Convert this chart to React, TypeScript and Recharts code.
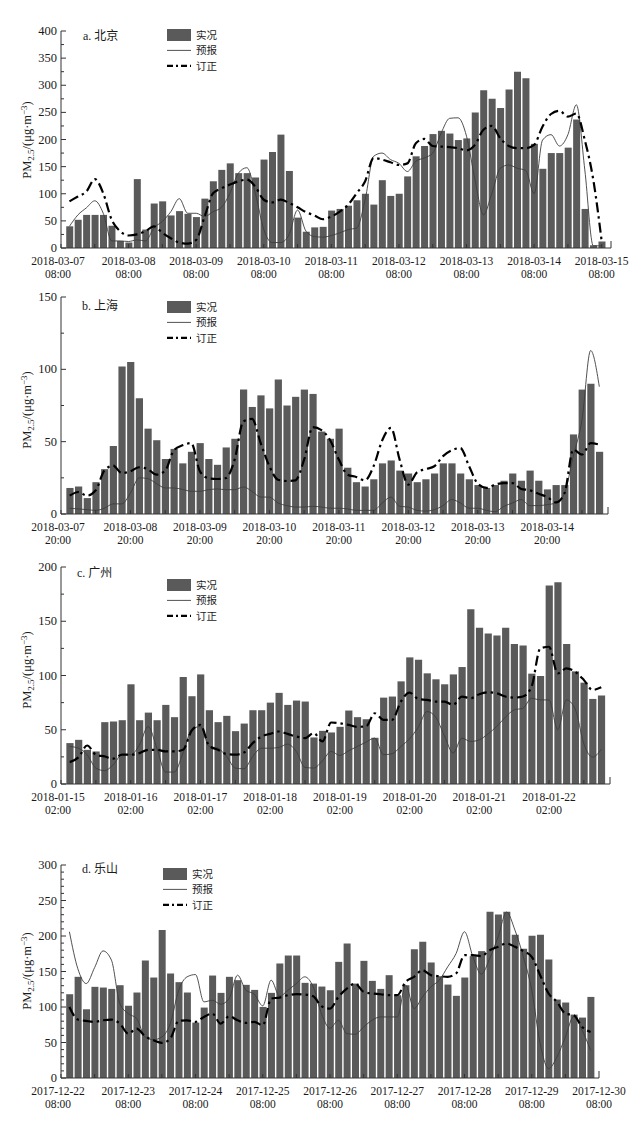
import React from 'react';
import { ComposedChart, Bar, Line, XAxis, YAxis } from 'recharts';

const SERIF = '"Liberation Serif", "Times New Roman", serif';
const CJK = '"Noto Sans CJK SC", "Liberation Serif", sans-serif';
const TXT = '#1a1a1a';
const AXIS = '#333';
const BAR = '#5a5a5a';

// ---------- a. 北京 ----------
const datesA = ['2018-03-07', '2018-03-08', '2018-03-09', '2018-03-10', '2018-03-11', '2018-03-12', '2018-03-13', '2018-03-14', '2018-03-15'];
const timeA = '08:00';
const actualA = [40, 52, 61, 61, 61, 41, 13, 10, 127, 34, 82, 86, 60, 68, 63, 57, 91, 123, 144, 156, 138, 138, 130, 163, 177, 209, 142, 56, 30, 38, 39, 69, 72, 78, 88, 100, 80, 125, 96, 100, 132, 169, 188, 210, 216, 211, 199, 202, 250, 291, 275, 258, 292, 325, 313, 192, 146, 175, 175, 185, 237, 72, 5, 12];
const forecastA = [40, 61, 74, 87, 64, 13, 13, 12, 15, 13, 37, 49, 67, 91, 64, 64, 58, 67, 75, 101, 138, 148, 101, 34, 10, 10, 25, 70, 31, 21, 20, 23, 28, 34, 37, 89, 169, 175, 163, 156, 141, 160, 166, 175, 212, 239, 240, 206, 126, 61, 101, 147, 153, 147, 143, 100, 199, 209, 188, 209, 264, 144, 4, 4];
const revisedA = [86, 95, 104, 127, 101, 52, 31, 23, 25, 31, 40, 28, 18, 10, 8, 15, 58, 101, 110, 117, 123, 126, 113, 89, 84, 89, 83, 75, 66, 60, 53, 58, 67, 80, 101, 123, 166, 163, 158, 153, 156, 193, 201, 188, 187, 186, 184, 180, 190, 218, 225, 202, 188, 184, 184, 190, 224, 247, 253, 242, 248, 199, 126, 12];

// ---------- b. 上海 ----------
const datesB = ['2018-03-07', '2018-03-08', '2018-03-09', '2018-03-10', '2018-03-11', '2018-03-12', '2018-03-13', '2018-03-14'];
const timeB = '20:00';
const actualB = [18, 19, 11, 22, 31, 47, 102, 105, 80, 59, 51, 38, 45, 35, 43, 49, 38, 34, 46, 52, 86, 74, 82, 73, 93, 75, 81, 86, 83, 57, 52, 59, 32, 22, 19, 24, 35, 37, 30, 28, 22, 24, 28, 35, 35, 28, 24, 20, 18, 20, 23, 28, 23, 30, 23, 17, 20, 20, 55, 86, 90, 43];
const forecastB = [4, 3.5, 3, 2.5, 4, 7, 7, 14.5, 25, 24.5, 21, 18, 18, 17, 15.7, 15.7, 16.8, 17.3, 16.8, 16.8, 18.7, 15.7, 11.7, 11.7, 7.6, 5.8, 4.8, 4.8, 5.3, 4.8, 4, 4, 3.5, 2.5, 2.5, 2.5, 7.6, 11.7, 5.3, 4.8, 2.5, 2, 3, 5.8, 10, 7.6, 4, 4, 2.5, 1.6, 5.3, 7.6, 10, 5.8, 5.8, 6.5, 7.6, 14.5, 40, 65, 113, 88];
const revisedB = [12.7, 15.2, 12.7, 16.4, 30, 33.4, 28.3, 29.5, 32.3, 31, 27.2, 30, 44, 47.5, 49, 29.5, 24.7, 24.2, 24.9, 37.6, 64, 65.7, 49, 33, 23.7, 22.8, 23.3, 37.6, 60, 58, 51, 37.6, 27.2, 25.6, 23.3, 33, 51, 59.5, 37.6, 20.3, 28.8, 31, 33, 40, 44, 45.6, 33, 21, 18, 20.3, 21.4, 21.4, 17.3, 16.4, 14, 11.7, 8, 14.5, 44.5, 41, 49, 48];

// ---------- c. 广州 ----------
const datesC = ['2018-01-15', '2018-01-16', '2018-01-17', '2018-01-18', '2018-01-19', '2018-01-20', '2018-01-21', '2018-01-22'];
const timeC = '02:00';
const actualC = [37.7, 40.7, 31.5, 30, 57, 57.6, 58.8, 91.9, 58.8, 65.8, 58.8, 72.9, 61.6, 98.6, 80.9, 101, 68, 57, 62.8, 48.7, 55.7, 68, 68, 75, 84, 72.9, 76.9, 76, 42.9, 49, 47.5, 52.7, 67.7, 61.6, 59.7, 42.6, 79.6, 80.6, 94.6, 116.7, 114.5, 102, 96.5, 91.9, 101, 107.8, 161, 144, 138.7, 136.9, 144, 129, 127.7, 101.7, 99.5, 183, 186, 129, 103.8, 93.4, 78.4, 81.5];
const forecastC = [34.6, 33, 27, 14.7, 12.3, 17.8, 27, 27, 36, 53, 33, 11, 11, 28.5, 50, 53, 34.6, 33, 25.4, 14.7, 14, 25.4, 33, 33, 33.7, 36.8, 30, 15.3, 14.7, 21.4, 30, 26.3, 30.6, 34.6, 38.6, 42.3, 27, 27.9, 34.6, 41.7, 52.4, 66.8, 61.6, 44.4, 28.5, 42.3, 39.2, 40.7, 46.2, 53, 61.6, 68.3, 69.8, 79, 77.5, 77.5, 50, 77.5, 69.2, 37, 24.8, 32];
const revisedC = [20.2, 24.5, 35.5, 27, 25.4, 23.3, 27, 27, 28.5, 31.5, 31.5, 30, 30, 31.5, 49.3, 54.5, 35.2, 31.5, 27.6, 27, 29, 37.7, 43.8, 46.2, 48.4, 46.2, 43.8, 42.3, 47, 39.2, 56.7, 56, 54.5, 52.7, 53, 65.2, 59.1, 59.1, 76, 84.2, 78.4, 77.5, 76, 76, 72.9, 80.6, 79, 82.7, 84.5, 83.6, 80.6, 79.6, 80.6, 89.7, 125, 126.5, 102, 106.6, 103.5, 95.9, 86.7, 89.1];

// ---------- d. 乐山 ----------
const datesD = ['2017-12-22', '2017-12-23', '2017-12-24', '2017-12-25', '2017-12-26', '2017-12-27', '2017-12-28', '2017-12-29', '2017-12-30'];
const timeD = '08:00';
const actualD = [118, 142.5, 96.8, 128.4, 127.4, 125.5, 130.7, 101.6, 120.4, 165.5, 141.5, 208.3, 147.2, 135, 120.4, 78, 99.2, 144.3, 119.9, 142.5, 137.8, 131.2, 124.1, 100.1, 119.9, 161.3, 172.5, 172.5, 134, 133, 128.8, 123.6, 163.6, 189.5, 133, 165, 136.8, 125.5, 144.8, 116.6, 130.7, 181.5, 191.8, 162.7, 143.4, 131.6, 115.7, 141.5, 171.6, 178.7, 234, 230.4, 234, 201.7, 182, 200.3, 201.7, 166.9, 110.5, 106.3, 89.3, 85.1, 114.2];
const forecastD = [206, 154, 133, 155.6, 179, 166, 104.8, 90.7, 83.7, 57.8, 54, 57.8, 76.6, 123.6, 142.5, 145.7, 107.2, 109.5, 103.9, 111.9, 144.8, 123.6, 118, 101.6, 137.8, 115.2, 123.6, 133, 142.5, 128.4, 90, 70, 81.3, 62.5, 61.6, 71.9, 81.3, 86, 86, 86, 130.7, 97.8, 114.2, 128.4, 137.8, 156.6, 175.4, 206, 170.7, 146.2, 168.3, 198.9, 233.7, 208.3, 170.7, 123.6, 48.4, 13.2, 29.6, 57.8, 87, 67.2, 39];
const revisedD = [100.1, 82.3, 80.4, 79, 81.3, 82.3, 76.6, 62.5, 69.6, 58.8, 53.1, 49.4, 55.5, 80.4, 81.3, 79, 86, 90.7, 76.6, 87, 81.3, 77.6, 79, 74.3, 111.9, 113.3, 116.6, 118, 117.5, 115.2, 101, 97.8, 114.2, 126, 133, 121.3, 119, 118, 116.6, 116.6, 135.4, 142.5, 151.9, 144.8, 143.4, 142.5, 147.2, 173, 173, 171.6, 180, 184.8, 189.5, 184.8, 178.7, 170.7, 144.8, 119, 107.2, 90.7, 88.4, 71.9, 64.9];

const SERIES_NAMES = ['实况', '预报', '订正'];

const PLOT_LEFT = 61;
const YAXIS_W = 40;
const XAXIS_H = 30;

type Cfg = {
  title: string;
  letter: string;
  dates: string[];
  time: string;
  actual: number[];
  forecast: number[];
  revised: number[];
  top: number;
  height: number;
  plotTop: number;
  plotBottom: number;
  plotRight: number;
  xMax: number;
  yMax: number;
  yMajor: number;
  yMinor: number;
  barSize: number;
  legendX: number;
  legendY: number;
  titleX: number;
  titleY: number;
  labelCy: number;
};

const panels: Cfg[] = [
  { title: '北京', letter: 'a.', dates: datesA, time: timeA, actual: actualA, forecast: forecastA, revised: revisedA,
    top: 0, height: 280, plotTop: 31, plotBottom: 248, plotRight: 611, xMax: 65.1, yMax: 400, yMajor: 50, yMinor: 25, barSize: 7,
    legendX: 167, legendY: 35, titleX: 83, titleY: 35, labelCy: 140 },
  { title: '上海', letter: 'b.', dates: datesB, time: timeB, actual: actualB, forecast: forecastB, revised: revisedB,
    top: 280, height: 275, plotTop: 297, plotBottom: 514, plotRight: 608, xMax: 63, yMax: 150, yMajor: 50, yMinor: 25, barSize: 7.2,
    legendX: 167, legendY: 307, titleX: 82, titleY: 305, labelCy: 410 },
  { title: '广州', letter: 'c.', dates: datesC, time: timeC, actual: actualC, forecast: forecastC, revised: revisedC,
    top: 555, height: 295, plotTop: 567, plotBottom: 784, plotRight: 610, xMax: 63, yMax: 200, yMajor: 50, yMinor: 25, barSize: 7.2,
    legendX: 167, legendY: 585, titleX: 77, titleY: 572, labelCy: 670 },
  { title: '乐山', letter: 'd.', dates: datesD, time: timeD, actual: actualD, forecast: forecastD, revised: revisedD,
    top: 850, height: 280, plotTop: 865, plotBottom: 1078, plotRight: 599, xMax: 64, yMax: 300, yMajor: 50, yMinor: 10, barSize: 7,
    legendX: 163, legendY: 874, titleX: 82, titleY: 868, labelCy: 971 },
];

function range(start: number, end: number, step: number): number[] {
  const out: number[] = [];
  for (let v = start; v <= end + 1e-9; v += step) out.push(Math.round(v * 1000) / 1000);
  return out;
}

function Panel({ cfg }: { cfg: Cfg }) {
  const data = cfg.actual.map((v, i) => ({
    x: i + 1,
    actual: v,
    forecast: cfg.forecast[i],
    revised: cfg.revised[i],
  }));
  const localTop = cfg.plotTop - cfg.top;
  const localBottom = cfg.plotBottom - cfg.top;
  const marginBottom = cfg.height - localBottom - XAXIS_H;
  const xTicks = range(0, Math.floor(cfg.xMax), 4);
  if (Math.abs(xTicks[xTicks.length - 1] - cfg.xMax) > 1e-6) xTicks.push(cfg.xMax);
  const yTicks = range(0, cfg.yMax, cfg.yMinor);

  const XTick = (props: any) => {
    const { x, payload } = props;
    const v = payload.value as number;
    const isEnd = Math.abs(v - cfg.xMax) < 1e-6;
    const len = isEnd ? 7 : 4;
    const idx = v % 8 === 0 ? v / 8 : -1;
    const showLabel = idx >= 0 && idx < cfg.dates.length;
    const lx = v === 0 ? x - 3 : x;
    return (
      <g>
        <line x1={x} x2={x} y1={localBottom} y2={localBottom - len} stroke={AXIS} strokeWidth={1} />
        {showLabel && (
          <text x={lx} y={localBottom + 17} textAnchor="middle" fontFamily={SERIF} fontSize={11.5} fill={TXT}>
            {cfg.dates[idx]}
          </text>
        )}
        {showLabel && (
          <text x={lx} y={localBottom + 29.5} textAnchor="middle" fontFamily={SERIF} fontSize={11.5} fill={TXT}>
            {cfg.time}
          </text>
        )}
      </g>
    );
  };

  const YTick = (props: any) => {
    const { y, payload } = props;
    const v = payload.value as number;
    const major = Math.abs(v % cfg.yMajor) < 1e-6;
    return (
      <g>
        <line x1={PLOT_LEFT} x2={PLOT_LEFT + (major ? 5 : 3)} y1={y} y2={y} stroke={AXIS} strokeWidth={1} />
        {major && (
          <text x={PLOT_LEFT - 4} y={y + 4} textAnchor="end" fontFamily={SERIF} fontSize={12.5} fill={TXT}>
            {v}
          </text>
        )}
      </g>
    );
  };

  return (
    <div style={{ position: 'absolute', left: 0, top: cfg.top, width: 644, height: cfg.height }}>
      <ComposedChart
        width={644}
        height={cfg.height}
        data={data}
        margin={{ top: localTop, right: 644 - cfg.plotRight, bottom: marginBottom, left: PLOT_LEFT - YAXIS_W }}
      >
        <XAxis
          dataKey="x"
          type="number"
          domain={[0, cfg.xMax]}
          ticks={xTicks}
          interval={0}
          allowDataOverflow
          height={XAXIS_H}
          tickLine={false}
          axisLine={{ stroke: AXIS, strokeWidth: 1 }}
          tick={XTick}
        />
        <YAxis
          type="number"
          domain={[0, cfg.yMax]}
          ticks={yTicks}
          interval={0}
          allowDataOverflow
          width={YAXIS_W}
          tickLine={false}
          axisLine={{ stroke: AXIS, strokeWidth: 1 }}
          tick={YTick}
        />
        <Bar dataKey="actual" name={SERIES_NAMES[0]} fill={BAR} barSize={cfg.barSize} isAnimationActive={false} />
        <Line dataKey="forecast" name={SERIES_NAMES[1]} type="monotone" stroke="#3d3d3d" strokeWidth={0.9} dot={false} isAnimationActive={false} />
        <Line dataKey="revised" name={SERIES_NAMES[2]} type="monotone" stroke="#000" strokeWidth={2.2} strokeDasharray="10 4 2.5 4" dot={false} isAnimationActive={false} />
      </ComposedChart>
    </div>
  );
}

function Overlay() {
  return (
    <svg width={644} height={1130} style={{ position: 'absolute', left: 0, top: 0, pointerEvents: 'none' }}>
      {panels.map((p, k) => {
        const lx = p.legendX;
        const ly = p.legendY;
        const dy = 15.4;
        return (
          <g key={k}>
            <text x={p.titleX} y={p.titleY + 4.5} fontSize={12} fill={TXT}>
              <tspan fontFamily={SERIF}>{p.letter} </tspan>
              <tspan fontFamily={CJK}>{p.title}</tspan>
            </text>
            <rect x={lx} y={ly - 6} width={24} height={12} fill={BAR} />
            <line x1={lx} x2={lx + 24} y1={ly + dy} y2={ly + dy} stroke="#3d3d3d" strokeWidth={0.9} />
            <line x1={lx} x2={lx + 24} y1={ly + 2 * dy} y2={ly + 2 * dy} stroke="#000" strokeWidth={2.2} strokeDasharray="6 3 2 3" />
            {SERIES_NAMES.map((n, j) => (
              <text key={n} x={lx + 29} y={ly + j * dy + 4} fontFamily={CJK} fontSize={10.5} fill={TXT}>
                {n}
              </text>
            ))}
            <text transform={`translate(31, ${p.labelCy}) rotate(-90)`} textAnchor="middle" fontFamily={SERIF} fontSize={12.5} fill={TXT}>
              PM<tspan dy={3} fontSize={9}>2.5</tspan>
              <tspan dy={-3}>/(μg·m</tspan>
              <tspan dy={-4.5} fontSize={9}>−3</tspan>
              <tspan dy={4.5}>)</tspan>
            </text>
          </g>
        );
      })}
    </svg>
  );
}

export default function App() {
  return (
    <div style={{ position: 'absolute', left: 0, top: 0, width: 644, height: 1130, background: '#fff' }}>
      {panels.map((p, i) => (
        <Panel key={i} cfg={p} />
      ))}
      <Overlay />
    </div>
  );
}
